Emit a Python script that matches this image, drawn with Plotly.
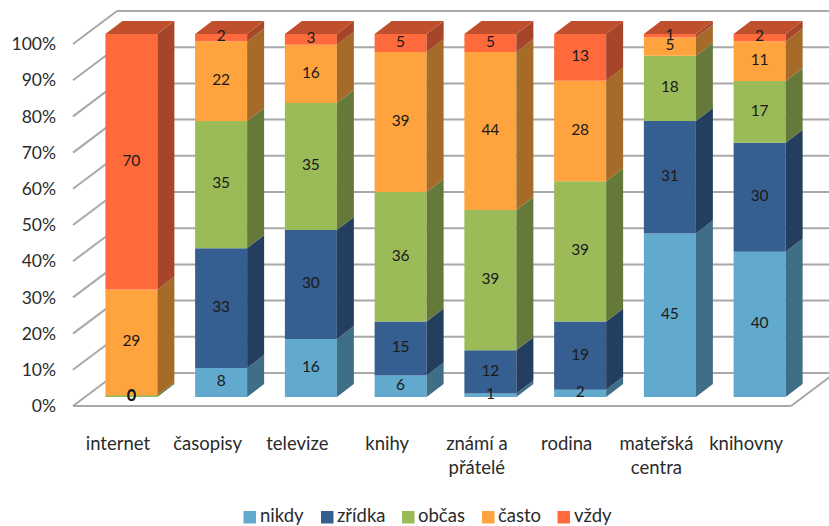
import plotly.graph_objects as go

categories = ["internet", "časopisy", "televize", "knihy", "známí a<br>přátelé", "rodina", "mateřská<br>centra", "knihovny"]
nikdy = [0, 8, 16, 6, 1, 2, 45, 40]
zridka = [0, 33, 30, 15, 12, 19, 31, 30]
obcas = [0.49, 35, 35, 36, 39, 39, 18, 17]
casto = [29, 22, 16, 39, 44, 28, 5, 11]
vzdy = [70, 2, 3, 5, 5, 13, 1, 2]
series_names = ["nikdy", "zřídka", "občas", "často", "vždy"]
series_values = [nikdy, zridka, obcas, casto, vzdy]
percent_ticks = [0, 10, 20, 30, 40, 50, 60, 70, 80, 90, 100]

front_colors = ["#62A9CE", "#365F91", "#9BBB59", "#FFA33F", "#FF6A3D"]
side_colors = ["#3F6E87", "#233E5F", "#657A3A", "#A66A29", "#A6452A"]
top_color = "#C0502D"
legend_swatch_px = [243.5, 321, 402, 482, 557.5]

W, H = 829, 526
PX_L, PX_R, PX_B, PX_T = 73, 791, 406, 44
n = len(categories)
ux = (PX_R - PX_L) / n
uy = (PX_B - PX_T) / 100
FLOOR_DX, FLOOR_DY = 44 / ux, 33 / uy
BAR_OX, BAR_OY = 13.5 / ux, 9 / uy
BAR_DX, BAR_DY = 17 / ux, 13 / uy
BAR_W = 52 / ux
BAR_SCALE = 1.003
FONT = "Lato"
TEXT = "#2B2B2B"

fig = go.Figure()

# invisible trace so that the labelled axes exist
fig.add_trace(go.Scatter(x=[0], y=[0], mode="markers", marker=dict(opacity=0), showlegend=False,
                         hoverinfo="skip", xaxis="x", yaxis="y"))

shapes = []
def wall(x0, y0, x1, y1):
    shapes.append(dict(type="line", xref="x2", yref="y2", layer="below", x0=x0, y0=y0, x1=x1, y1=y1,
                       line=dict(color="#A8A8A8", width=2)))

for p in percent_ticks:
    wall(-0.5, p, -0.5 + FLOOR_DX, p + FLOOR_DY)
    wall(-0.5 + FLOOR_DX, p + FLOOR_DY, n - 0.5 + FLOOR_DX, p + FLOOR_DY)
wall(-0.5, 0, n - 0.5, 0)
wall(n - 0.5, 0, n - 0.5 + FLOOR_DX, FLOOR_DY)

totals = [sum(s[i] for s in series_values) for i in range(n)]
cum = [0.0] * n
label_x, label_y, label_t = [], [], []
for name, vals, fc, sc in zip(series_names, series_values, front_colors, side_colors):
    heights = [BAR_SCALE * 100 * v / t for v, t in zip(vals, totals)]
    bases = [BAR_OY + c for c in cum]
    xs = [i + BAR_OX for i in range(n)]
    fig.add_trace(go.Bar(x=xs, y=heights, base=bases, width=BAR_W, name=name, marker=dict(color=fc, line_width=0),
                         showlegend=False, xaxis="x2", yaxis="y2", hoverinfo="skip"))
    sx, sy = [], []
    for i in range(n):
        if heights[i] <= 0:
            continue
        right = xs[i] + BAR_W / 2
        b, t = bases[i], bases[i] + heights[i]
        sx += [right, right + BAR_DX, right + BAR_DX, right, right, None]
        sy += [b, b + BAR_DY, t + BAR_DY, t, b, None]
    fig.add_trace(go.Scatter(x=sx, y=sy, mode="lines", fill="toself", fillcolor=sc, line=dict(width=0),
                             showlegend=False, hoverinfo="skip", xaxis="x2", yaxis="y2"))
    for i in range(n):
        label_x.append(xs[i])
        label_y.append(bases[i] + heights[i] / 2)
        label_t.append(f"{vals[i]:.0f}")
    cum = [c + h for c, h in zip(cum, heights)]

tx, ty = [], []
for i in range(n):
    left = i + BAR_OX - BAR_W / 2
    right = left + BAR_W
    t = BAR_OY + cum[i]
    tx += [left, right, right + BAR_DX, left + BAR_DX, left, None]
    ty += [t, t, t + BAR_DY, t + BAR_DY, t, None]
fig.add_trace(go.Scatter(x=tx, y=ty, mode="lines", fill="toself", fillcolor=top_color, line=dict(width=0),
                         showlegend=False, hoverinfo="skip", xaxis="x2", yaxis="y2"))
fig.add_trace(go.Scatter(x=label_x, y=label_y, text=label_t, mode="text", showlegend=False,
                         textfont=dict(family=FONT, size=15.5, color="#1A1A1A"), hoverinfo="skip",
                         xaxis="x2", yaxis="y2"))

# legend drawn to the reference's tight swatch/label spacing
annotations = []
for name, col, px in zip(series_names, front_colors, legend_swatch_px):
    shapes.append(dict(type="rect", xref="paper", yref="paper", x0=px / W, x1=(px + 12.5) / W,
                       y0=(H - 523.5) / H, y1=(H - 511) / H, fillcolor=col, line_width=0))
    annotations.append(dict(xref="paper", yref="paper", x=(px + 16) / W, y=(H - 515) / H, text=name,
                            showarrow=False, xanchor="left", yanchor="middle",
                            font=dict(family=FONT, size=18.5, color=TEXT), borderpad=0, borderwidth=0))

fig.update_layout(
    width=W, height=H, margin=dict(l=0, r=0, t=0, b=0, autoexpand=False), paper_bgcolor="white",
    plot_bgcolor="rgba(0,0,0,0)", barmode="overlay", showlegend=False,
    font=dict(family=FONT, size=17.5, color=TEXT), shapes=shapes, annotations=annotations,
    xaxis=dict(domain=[PX_L / W, PX_R / W], range=[-0.5, n - 0.5], tickmode="array", tickvals=list(range(n)),
               ticktext=categories, showgrid=False, zeroline=False, showline=False, ticks="",
               ticklabelstandoff=24, tickangle=0, automargin=False, fixedrange=True,
               tickfont=dict(size=18.5)),
    yaxis=dict(domain=[(H - PX_B) / H, (H - PX_T) / H], range=[0, 100], tickmode="array", tickvals=percent_ticks,
               ticktext=[f"{p}%" for p in percent_ticks], showgrid=False, zeroline=False, showline=False,
               ticks="", ticklabelstandoff=16, automargin=False, fixedrange=True),
    xaxis2=dict(domain=[0, 1], range=[-0.5 - PX_L / ux, -0.5 + (W - PX_L) / ux], visible=False, anchor="y2", fixedrange=True),
    yaxis2=dict(domain=[0, 1], range=[-(H - PX_B) / uy, 100 + PX_T / uy], visible=False, anchor="x2", fixedrange=True),
)
fig.write_html("out.html", config=dict(displayModeBar=False),
               post_script="document.body.style.margin='0';")
